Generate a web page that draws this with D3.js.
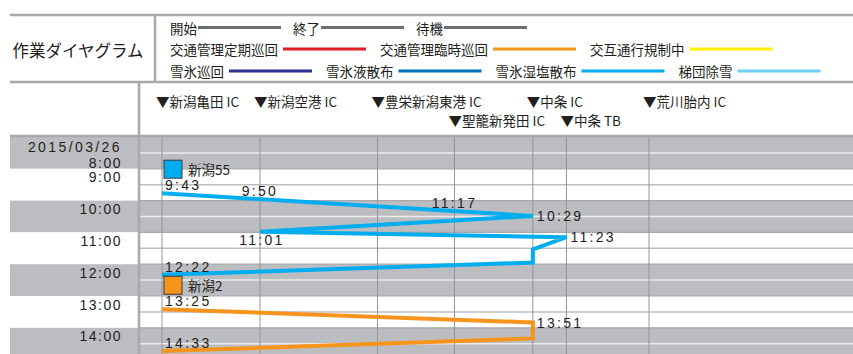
<!DOCTYPE html>
<html>
<head>
<meta charset="utf-8">
<script src="https://cdn.jsdelivr.net/npm/d3@7"></script>
<style>
  body { margin: 0; background: #fff; }
  text { font-family: "Liberation Sans", "Noto Sans CJK JP", sans-serif; fill: #231f20; }
</style>
</head>
<body>
<div id="chart"></div>
<script>
// legend rows
var legendNames = [
  ["開始", "終了", "待機"],
  ["交通管理定期巡回", "交通管理臨時巡回", "交互通行規制中"],
  ["雪氷巡回", "雪氷液散布", "雪氷湿塩散布", "梯団除雪"]
];
var legendColors = [
  ["#6d6e71", "#6d6e71", "#6d6e71"],
  ["#e31f26", "#f7941d", "#fff200"],
  ["#2e3192", "#0072bc", "#00aeef", "#6dcff6"]
];

// stations along the route (km)
var stations = ["新潟亀田 IC", "新潟空港 IC", "豊栄新潟東港 IC", "聖籠新発田 IC", "中条 IC", "中条 TB", "荒川胎内 IC"];
var stationKm = [0, 7.0, 15.4, 20.9, 26.5, 28.9, 34.8];

var day = "2015/03/26";
var hours = [8, 9, 10, 11, 12, 13, 14];

// vehicles
var units = ["新潟55", "新潟2"];
var unitColors = ["#00aeef", "#f7941d"];
var run55 = [
  ["新潟亀田 IC", "9:46"], ["中条 IC", "10:29"], ["新潟空港 IC", "10:59"], ["中条 TB", "11:09"],
  ["中条 IC", "11:32"], ["中条 IC", "11:57"], ["新潟亀田 IC", "12:20"]
];
var run2 = [
  ["新潟亀田 IC", "13:25"], ["中条 IC", "13:50"], ["中条 IC", "14:20"], ["新潟亀田 IC", "14:44"]
];
// [text, segment, station, placement]
var labels55 = [
  ["9:43", 0, "新潟亀田 IC", "start"], ["9:50", 0, "新潟空港 IC", "above"], ["11:17", 0, "聖籠新発田 IC", "above"],
  ["10:29", 0, "中条 IC", "right"], ["11:01", 1, "新潟空港 IC", "below"], ["11:23", 2, "中条 TB", "right"],
  ["12:22", 5, "新潟亀田 IC", "start"]
];
var labels2 = [
  ["13:25", 0, "新潟亀田 IC", "start"], ["13:51", 0, "中条 IC", "right"], ["14:33", 2, "新潟亀田 IC", "start"]
];
var runs = [run55, run2];
var runLabels = [labels55, labels2];

var width = 853;
var height = 354;
var grey = "#bcbdc0";
var rule = "#a7a9ac";

var svg = d3.select("#chart").append("svg")
  .attr("width", width).attr("height", height);

var toH = function(s) { var p = s.split(":"); return +p[0] + p[1] / 60; };
var kmOf = function(name) { return stationKm[stations.indexOf(name)]; };

var x = d3.scaleLinear().domain([0, 34.8]).range([162, 649]);
var y = d3.scaleLinear().domain([8, 15]).range([137, 137 + 7 * 31.8]);

// ---- hour bands
var bands = svg.append("g");
bands.selectAll("rect.l").data(hours).enter().append("rect")
  .attr("x", 10).attr("width", 128)
  .attr("y", function(h) { return y(h); })
  .attr("height", function(h) { return y(h + 1) - y(h); })
  .attr("fill", function(h) { return h % 2 == 0 ? grey : "#fff"; });
bands.selectAll("rect.p").data(hours).enter().append("rect")
  .attr("x", 140).attr("width", width - 140)
  .attr("y", function(h) { return y(h); })
  .attr("height", function(h) { return y(h + 1) - y(h); })
  .attr("fill", function(h) { return h % 2 == 0 ? grey : "#fff"; });
bands.selectAll("line.half").data(hours).enter().append("line")
  .attr("x1", 140).attr("x2", width)
  .attr("y1", function(h) { return y(h + 0.5); })
  .attr("y2", function(h) { return y(h + 0.5); })
  .attr("stroke", function(h) { return h % 2 == 0 ? "#ececed" : "#bcbec0"; })
  .attr("stroke-width", 1.5);
bands.selectAll("line.hour").data(hours.slice(1)).enter().append("line")
  .attr("x1", 140).attr("x2", width)
  .attr("y1", function(h) { return y(h); })
  .attr("y2", function(h) { return y(h); })
  .attr("stroke", rule).attr("stroke-width", 1.2);

// station verticals
svg.append("g").selectAll("line").data(stationKm).enter().append("line")
  .attr("x1", function(d) { return x(d); }).attr("x2", function(d) { return x(d); })
  .attr("y1", y(8)).attr("y2", height)
  .attr("stroke", "#939598").attr("stroke-width", 1);

// frame
svg.append("line").attr("x1", 10).attr("x2", width).attr("y1", y(8) - 1).attr("y2", y(8) - 1)
  .attr("stroke", rule).attr("stroke-width", 2.5);
svg.append("line").attr("x1", 139).attr("x2", 139).attr("y1", 82).attr("y2", height)
  .attr("stroke", rule).attr("stroke-width", 2.5);
svg.append("line").attr("x1", 10).attr("x2", width).attr("y1", 15).attr("y2", 15)
  .attr("stroke", rule).attr("stroke-width", 2.5);
svg.append("line").attr("x1", 10).attr("x2", width).attr("y1", 82).attr("y2", 82)
  .attr("stroke", rule).attr("stroke-width", 2.5);
svg.append("line").attr("x1", 155).attr("x2", 155).attr("y1", 15).attr("y2", 82)
  .attr("stroke", rule).attr("stroke-width", 2.5);

// title + legend
svg.append("text").attr("x", 78).attr("y", 50).attr("text-anchor", "middle")
  .attr("dominant-baseline", "central").style("font-family", "'Noto Sans CJK JP'")
  .style("font-size", "16.5px").text("作業ダイヤグラム");

var rowY = [27.5, 49, 71];
legendNames.forEach(function(row, r) {
  var cx = 170;
  row.forEach(function(name, i) {
    var t = svg.append("text").attr("x", cx).attr("y", rowY[r])
      .attr("dominant-baseline", "central").style("font-family", "'Noto Sans CJK JP'")
      .style("font-size", "13.5px").text(name);
    var w = t.node().getComputedTextLength();
    var gap = r == 0 ? 1 : 5;
    svg.append("line").attr("x1", cx + w + gap).attr("x2", cx + w + gap + 83)
      .attr("y1", rowY[r]).attr("y2", rowY[r])
      .attr("stroke", legendColors[r][i]).attr("stroke-width", 3);
    cx = cx + w + gap + 83 + (r == 0 ? 12 : 14);
  });
});

// station header, two rows when labels collide
var rowEnd = [0, 0];
stations.forEach(function(name, i) {
  var sx = x(stationKm[i]) - 6;
  var row = sx > rowEnd[0] + 6 ? 0 : 1;
  var t = svg.append("text").attr("x", sx).attr("y", row == 0 ? 101 : 120)
    .attr("dominant-baseline", "central").style("font-size", "13.5px")
    .style("font-family", "'Noto Sans CJK JP'").text("▼" + name);
  rowEnd[row] = sx + t.node().getComputedTextLength();
});

// time axis
svg.append("text").attr("x", 122).attr("y", y(8) + 15).attr("text-anchor", "end")
  .style("font-size", "14px").style("letter-spacing", "2.4px").text(day);
svg.append("g").selectAll("text").data(hours).enter().append("text")
  .attr("x", 122)
  .attr("y", function(h) { return h == 8 ? y(9) - 1 : y(h) + 13.5; })
  .attr("text-anchor", "end")
  .style("font-size", "14px").style("letter-spacing", "1.5px")
  .text(function(h) { return h + ":00"; });

// runs
var line = d3.line()
  .x(function(d) { return x(kmOf(d[0])); })
  .y(function(d) { return y(toH(d[1])); });

runs.forEach(function(run, k) {
  var g = svg.append("g");
  g.append("path").datum(run).attr("d", line)
    .attr("fill", "none").attr("stroke", unitColors[k]).attr("stroke-width", 4)
    .attr("stroke-linejoin", "miter");

  var x0 = x(kmOf(run[0][0])), y0 = y(toH(run[0][1]));
  g.append("rect").attr("x", x0 + 2).attr("y", y0 - 33).attr("width", 18).attr("height", 18)
    .attr("fill", unitColors[k]).attr("stroke", "#3a3a3a").attr("stroke-width", 1);
  g.append("text").attr("x", x0 + 26).attr("y", y0 - 24).attr("dominant-baseline", "central")
    .style("font-family", "'Noto Sans CJK JP'").style("font-size", "13.5px").text(units[k]);

  runLabels[k].forEach(function(l) {
    var a = run[l[1]], b = run[l[1] + 1];
    var xa = x(kmOf(a[0])), xb = x(kmOf(b[0]));
    var ya = y(toH(a[1])), yb = y(toH(b[1]));
    var sx = x(kmOf(l[2]));
    var sy = xa == xb ? ya : ya + (yb - ya) * (sx - xa) / (xb - xa);
    if (l[3] == "right") { sx = xb; sy = yb; }
    var t = g.append("text").style("font-size", "14px").style("letter-spacing", "2.3px").text(l[0]);
    if (l[3] == "start") t.attr("x", sx + 3).attr("y", sy - 3);
    if (l[3] == "above") t.attr("x", sx).attr("y", sy - 3.5).attr("text-anchor", "middle");
    if (l[3] == "right") t.attr("x", sx + 4).attr("y", sy).attr("dominant-baseline", "central");
    if (l[3] == "below") t.attr("x", sx + 2).attr("y", sy + 13.5).attr("text-anchor", "middle");
  });
});
</script>
</body>
</html>
